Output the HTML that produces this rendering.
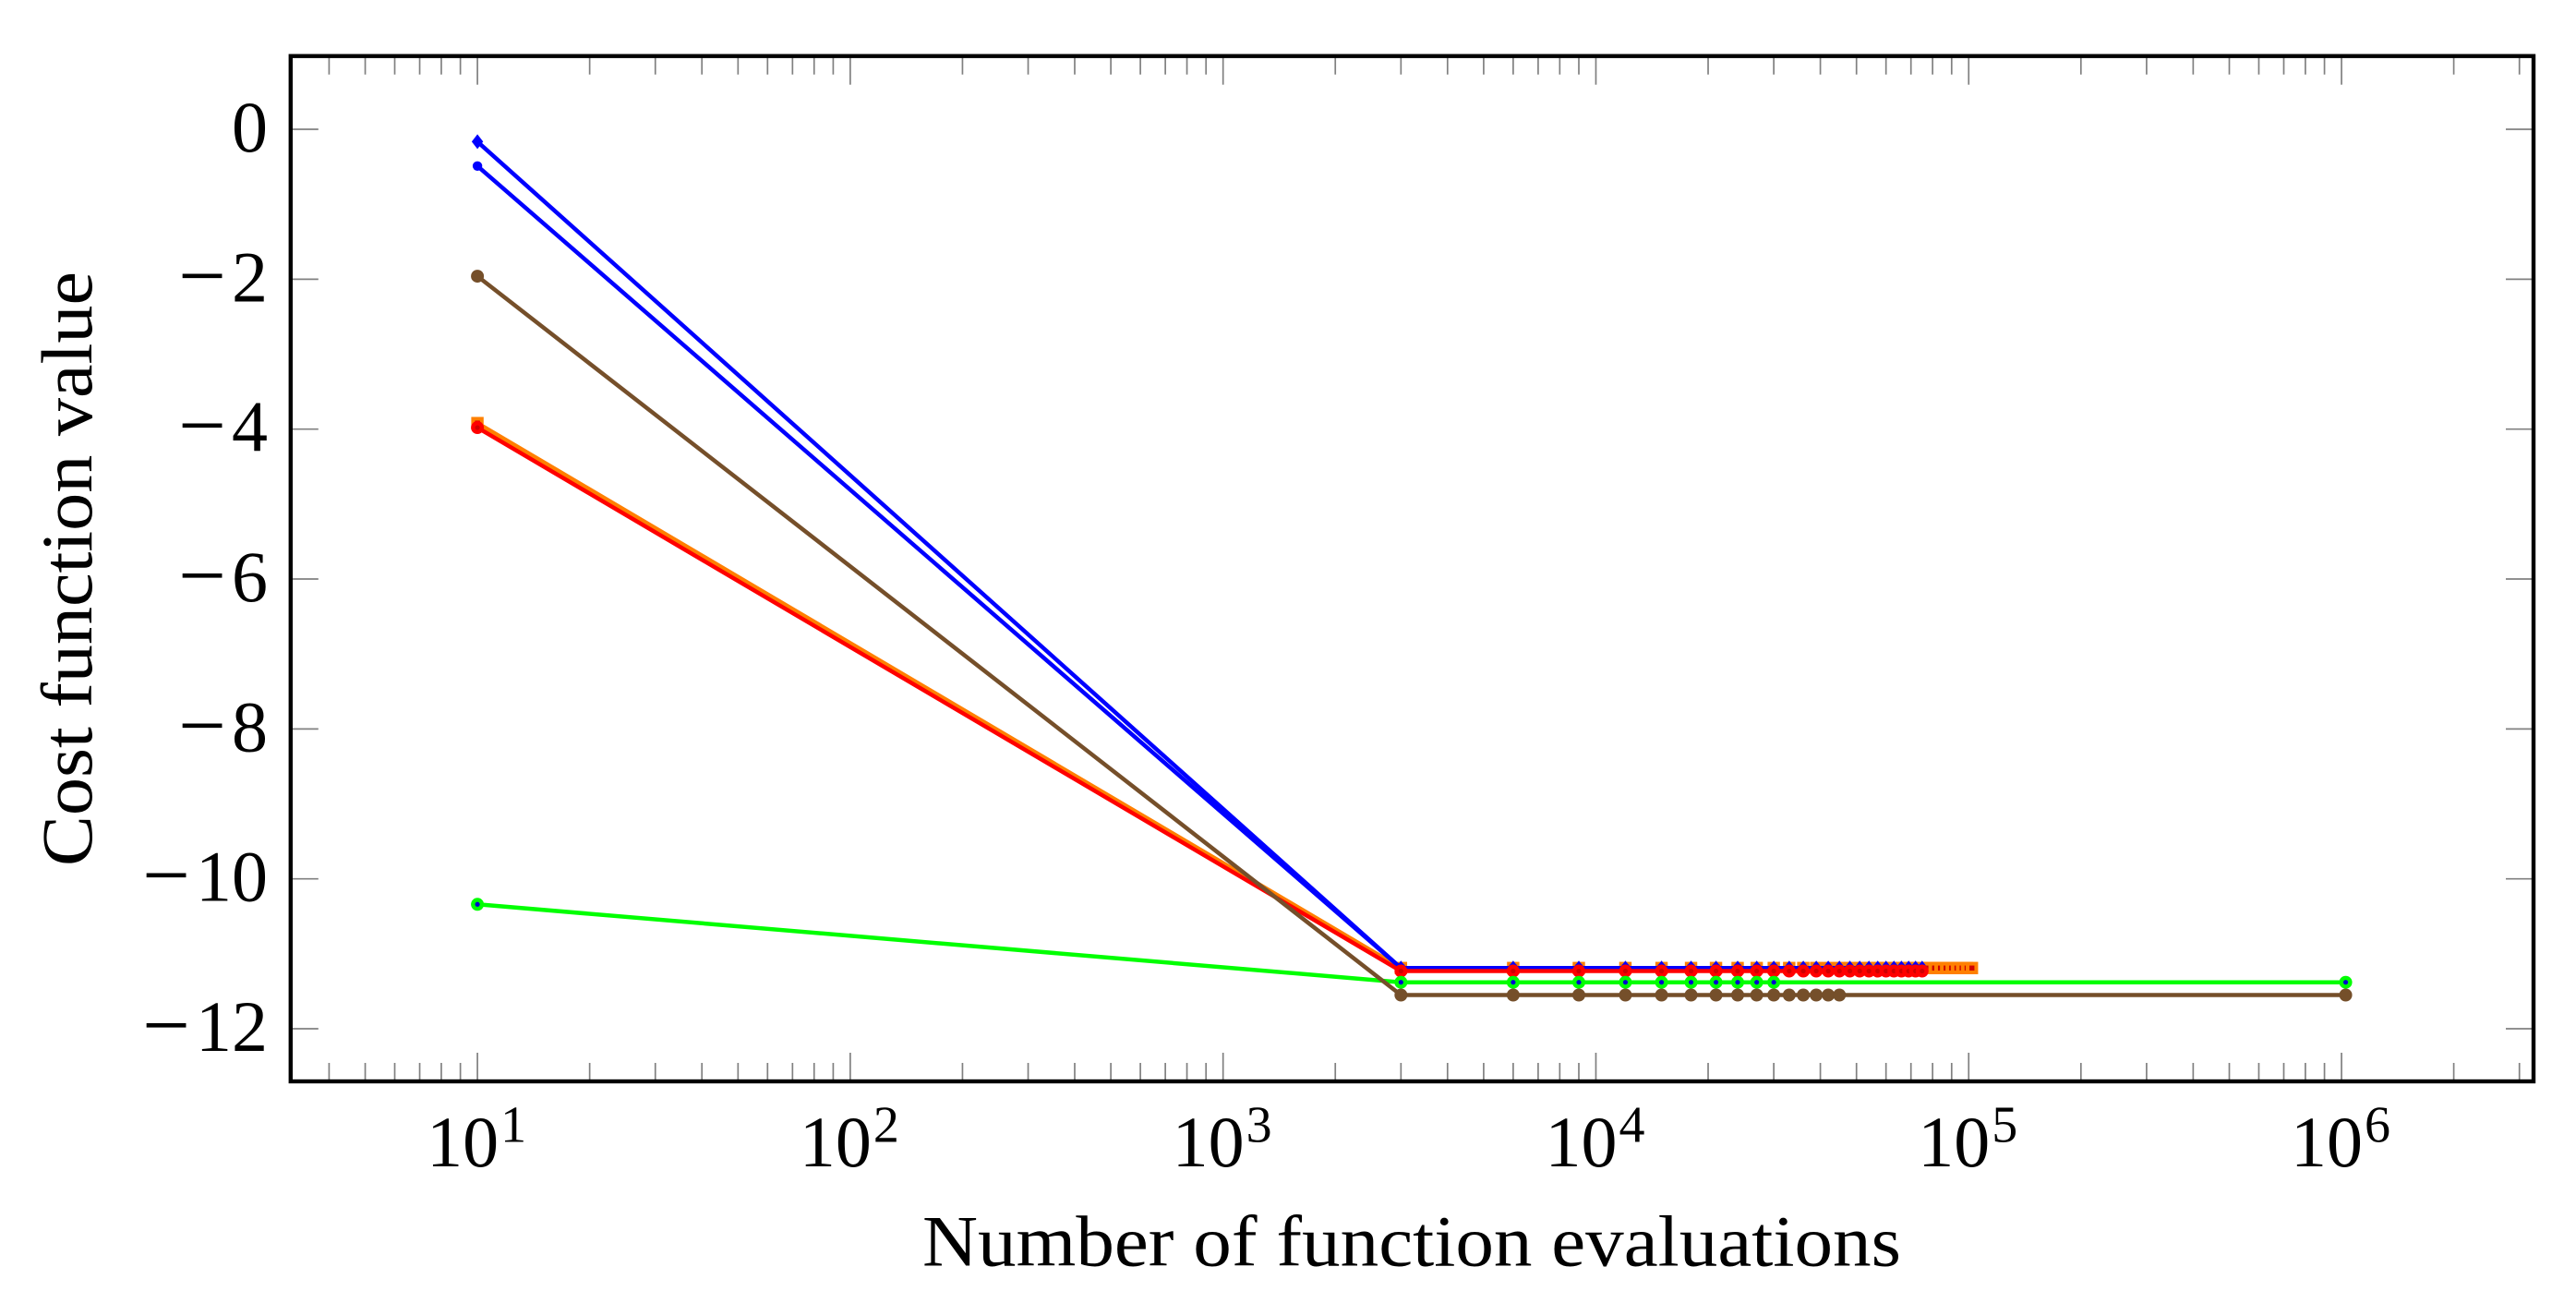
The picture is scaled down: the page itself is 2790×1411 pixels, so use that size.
<!DOCTYPE html>
<html>
<head>
<meta charset="utf-8">
<title>Cost function value vs number of function evaluations</title>
<style>
html,body{margin:0;padding:0;background:#fff;width:2790px;height:1411px;overflow:hidden}
svg{display:block}
text{font-family:"Liberation Serif",serif;fill:#000}
</style>
</head>
<body>
<svg id="chart" xmlns="http://www.w3.org/2000/svg" width="2790" height="1411" viewBox="0 0 2790 1411">
  <rect x="0" y="0" width="2790" height="1411" fill="#ffffff"/>
  <g id="ticks"></g>
  <g id="series"></g>
  <rect x="314.8" y="60.7" width="2429.2" height="1110.3" fill="none" stroke="#000" stroke-width="4.4"/>
  <g id="labels"></g>
  <text x="999" y="1370.5" font-size="78" textLength="1060" lengthAdjust="spacingAndGlyphs">Number of function evaluations</text>
  <text transform="translate(99,938) rotate(-90)" x="0" y="0" font-size="78" textLength="644" lengthAdjust="spacingAndGlyphs">Cost function value</text>
</svg>
<script>
// ---- chart data ----
const yTickValues = [0, -2, -4, -6, -8, -10, -12];
const yTickLabels = ['0', '\u22122', '\u22124', '\u22126', '\u22128', '\u221210', '\u221212'];
const xTickValues = [10, 100, 1000, 10000, 100000, 1000000];
const xTickBases = ['10', '10', '10', '10', '10', '10'];
const xTickExponents = ['1', '2', '3', '4', '5', '6'];
const xMinorDecades = [1, 10, 100, 1000, 10000, 100000, 1000000];
const xMinorMultipliers = [2, 3, 4, 5, 6, 7, 8, 9];

const orangeX = [10, 3000, 6000, 9000, 12000, 15000, 18000, 21000, 24000, 27000, 30000, 33000, 36000, 39000, 42000, 45000, 48000, 51000, 54000, 57000, 60000, 63000, 66000, 69000, 72000, 75000, 78000, 81000, 84000, 87000, 90000, 93000, 96000, 99000, 102000];
const orangeY = [-3.92, -11.19, -11.19, -11.19, -11.19, -11.19, -11.19, -11.19, -11.19, -11.19, -11.19, -11.19, -11.19, -11.19, -11.19, -11.19, -11.19, -11.19, -11.19, -11.19, -11.19, -11.19, -11.19, -11.19, -11.19, -11.19, -11.19, -11.19, -11.19, -11.19, -11.19, -11.19, -11.19, -11.19, -11.19];
const blueAX = [10, 3000, 6000, 9000, 12000, 15000, 18000, 21000, 24000, 27000, 30000, 33000, 36000, 39000, 42000, 45000, 48000, 51000, 54000, 57000, 60000, 63000, 66000, 69000, 72000, 75000];
const blueAY = [-0.165, -11.19, -11.19, -11.19, -11.19, -11.19, -11.19, -11.19, -11.19, -11.19, -11.19, -11.19, -11.19, -11.19, -11.19, -11.19, -11.19, -11.19, -11.19, -11.19, -11.19, -11.19, -11.19, -11.19, -11.19, -11.19];
const blueBX = [10, 3000, 6000, 9000, 12000, 15000, 18000, 21000, 24000, 27000, 30000];
const blueBY = [-0.49, -11.19, -11.19, -11.19, -11.19, -11.19, -11.19, -11.19, -11.19, -11.19, -11.19];
const redX = [10, 3000, 6000, 9000, 12000, 15000, 18000, 21000, 24000, 27000, 30000, 33000, 36000, 39000, 42000, 45000, 48000, 51000, 54000, 57000, 60000, 63000, 66000, 69000, 72000, 75000];
const redY = [-3.98, -11.23, -11.23, -11.23, -11.23, -11.23, -11.23, -11.23, -11.23, -11.23, -11.23, -11.23, -11.23, -11.23, -11.23, -11.23, -11.23, -11.23, -11.23, -11.23, -11.23, -11.23, -11.23, -11.23, -11.23, -11.23];
const greenX = [10, 3000, 6000, 9000, 12000, 15000, 18000, 21000, 24000, 27000, 30000, 1026000];
const greenY = [-10.34, -11.38, -11.38, -11.38, -11.38, -11.38, -11.38, -11.38, -11.38, -11.38, -11.38, -11.38];
const brownX = [10, 3000, 6000, 9000, 12000, 15000, 18000, 21000, 24000, 27000, 30000, 33000, 36000, 39000, 42000, 45000, 1026000];
const brownY = [-1.96, -11.55, -11.55, -11.55, -11.55, -11.55, -11.55, -11.55, -11.55, -11.55, -11.55, -11.55, -11.55, -11.55, -11.55, -11.55, -11.55];

// ---- axis functions ----
const xDomainLogMin = 0.499, xDomainLogMax = 6.515;
const yDomainMax = 0.977, yDomainMin = -12.702;
const plotLeft = 314.8, plotRight = 2744, plotTop = 60.7, plotBottom = 1171;
function xScale(v) {
  return plotLeft + (Math.log10(v) - xDomainLogMin) / (xDomainLogMax - xDomainLogMin) * (plotRight - plotLeft);
}
function yScale(v) {
  return plotTop + (yDomainMax - v) / (yDomainMax - yDomainMin) * (plotBottom - plotTop);
}

const NS = 'http://www.w3.org/2000/svg';
function make(tag, attrs, parent) {
  const el = document.createElementNS(NS, tag);
  for (const k in attrs) el.setAttribute(k, attrs[k]);
  parent.appendChild(el);
  return el;
}
const ticksG = document.getElementById('ticks');
const seriesG = document.getElementById('series');
const labelsG = document.getElementById('labels');
const tickColor = '#808080';
const tickWidth = 1.7;

// ---- ticks ----
function drawVTick(x, len) {
  const bottom = make('line', {x1: x, x2: x, y1: plotBottom, y2: plotBottom - len, stroke: tickColor, 'stroke-width': tickWidth}, ticksG);
  
  
  const top = make('line', {x1: x, x2: x, y1: plotTop, y2: plotTop + len, stroke: tickColor, 'stroke-width': tickWidth}, ticksG);
  
  
}
xTickValues.forEach(function (v) { drawVTick(xScale(v), 31); });
xMinorDecades.forEach(function (d) {
  xMinorMultipliers.forEach(function (m) {
    const x = xScale(d * m);
    if (x > plotLeft + 2 && x < plotRight - 2) drawVTick(x, 20);
  });
});
yTickValues.forEach(function (v) {
  const y = yScale(v);
  const left = make('line', {x1: plotLeft, x2: plotLeft + 30, y1: y, y2: y, stroke: tickColor, 'stroke-width': tickWidth}, ticksG);
  
  
  const right = make('line', {x1: plotRight, x2: plotRight - 30, y1: y, y2: y, stroke: tickColor, 'stroke-width': tickWidth}, ticksG);
  
  
});

// ---- tick labels ----
yTickValues.forEach(function (v, i) {
  const t = make('text', {x: 290, y: yScale(v) + 24, 'font-size': 78, 'text-anchor': 'end'}, labelsG);
  
  
  const label = yTickLabels[i];
  if (label.charAt(0) === '\u2212') {
    const minus = make('tspan', {'font-size': 92, dy: 3}, t);
    minus.textContent = '\u2212';
    const digits = make('tspan', {dx: 6, dy: -3}, t);
    digits.textContent = label.slice(1);
  } else {
    t.textContent = label;
  }
});
xTickValues.forEach(function (v, i) {
  const t = make('text', {x: xScale(v) - 1, y: 1263, 'font-size': 78, 'text-anchor': 'middle'}, labelsG);
  
  
  const base = make('tspan', {}, t);
  base.textContent = xTickBases[i];
  const exp = make('tspan', {'font-size': 56, dy: -26.5, dx: 2}, t);
  exp.textContent = xTickExponents[i];
});

// ---- series ----
function drawLine(xs, ys, color, name) {
  const pts = xs.map(function (x, i) { return xScale(x).toFixed(2) + ',' + yScale(ys[i]).toFixed(2); }).join(' ');
  const line = make('polyline', {points: pts, fill: 'none', stroke: color, 'stroke-width': 4.5, 'stroke-linejoin': 'round'}, seriesG);
  
  
}
function drawCircle(x, y, r, color, name) {
  const c = make('circle', {cx: x, cy: y, r: r, fill: color}, seriesG);
  
  
}
function drawSquare(x, y, half, color, name) {
  const s = make('rect', {x: x - half, y: y - half, width: half * 2, height: half * 2, fill: color}, seriesG);
  
  
}
function drawDiamond(x, y, rx, ry, color, name) {
  const pts = [x, y - ry, x + rx, y, x, y + ry, x - rx, y].join(' ');
  const d = make('polygon', {points: pts, fill: color}, seriesG);
  
  
}

drawLine(orangeX, orangeY, '#ff8000', 'orange-series-line');
orangeX.forEach(function (x, i) {
  const px = xScale(x), py = yScale(orangeY[i]);
  drawSquare(px, py, 6.7, '#ff8000', 'orange-point');
  drawSquare(px, py, 2.7, '#d00000', 'orange-point-center');
});
drawLine(blueAX, blueAY, '#0000ff', 'blue-series-a-line');
blueAX.forEach(function (x, i) {
  drawDiamond(xScale(x), yScale(blueAY[i]), 6.2, 8, '#0000ff', 'blue-a-point');
});
drawLine(blueBX, blueBY, '#0000ff', 'blue-series-b-line');
blueBX.forEach(function (x, i) {
  drawCircle(xScale(x), yScale(blueBY[i]), 5.2, '#0000ff', 'blue-b-point');
});
drawLine(redX, redY, '#ff0000', 'red-series-line');
redX.forEach(function (x, i) {
  const px = xScale(x), py = yScale(redY[i]);
  drawCircle(px, py, 7, '#ff0000', 'red-point');
  drawCircle(px, py, 2.6, '#d00000', 'red-point-center');
});
drawLine(greenX, greenY, '#00ff00', 'green-series-line');
greenX.forEach(function (x, i) {
  const px = xScale(x), py = yScale(greenY[i]);
  drawCircle(px, py, 7, '#00ff00', 'green-point');
  drawCircle(px, py, 2.6, '#0000d0', 'green-point-center');
});
drawLine(brownX, brownY, '#754f2a', 'brown-series-line');
brownX.forEach(function (x, i) {
  drawCircle(xScale(x), yScale(brownY[i]), 7, '#754f2a', 'brown-point');
});
</script>
</body>
</html>
